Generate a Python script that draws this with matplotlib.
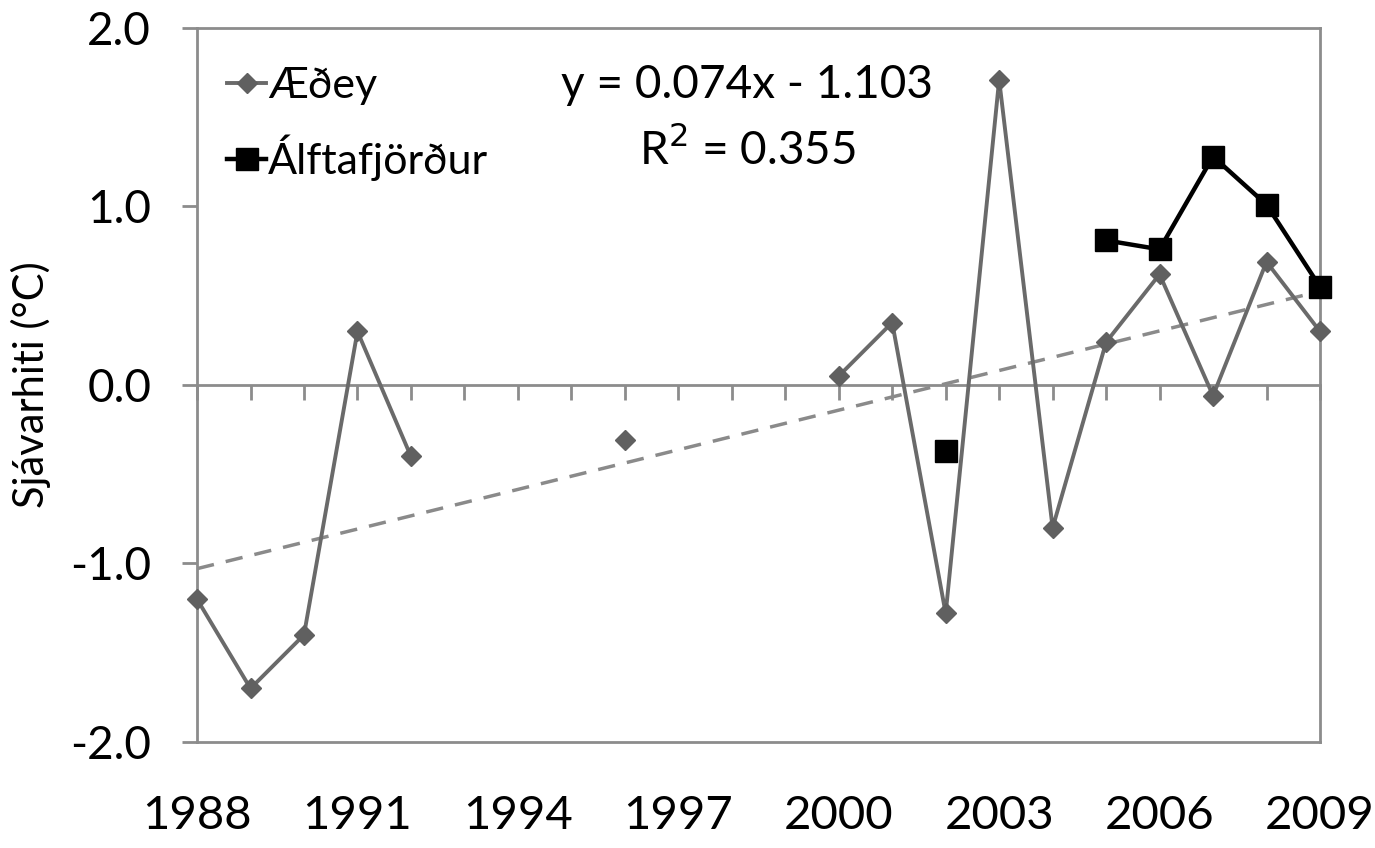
import matplotlib
matplotlib.use("Agg")
import matplotlib.pyplot as plt
import numpy as np

plt.rcParams['font.family'] = ['Lato', 'DejaVu Sans']
plt.rcParams['axes.unicode_minus'] = False

years = list(range(1988, 2010))
aedey = [-1.20, -1.70, -1.40, 0.30, -0.40, np.nan, np.nan, np.nan, -0.31, np.nan, np.nan, np.nan,
         0.05, 0.35, -1.28, 1.71, -0.80, 0.24, 0.62, -0.06, 0.69, 0.30]
alfta = [np.nan]*14 + [-0.37, np.nan, np.nan, 0.81, 0.76, 1.28, 1.01, 0.55]
# the source's trendline (x = index 1..22)
trend_slope = 0.074
trend_intercept = -1.103
trend_r2 = 0.355
xtick_years = [1988, 1991, 1994, 1997, 2000, 2003, 2006, 2009]
yticks = [-2.0, -1.0, 0.0, 1.0, 2.0]

fig = plt.figure(figsize=(13.75, 8.48), dpi=100)
ax = fig.add_axes([0.1433, 0.125, 0.8167, 0.842])

gray = '#8c8c8c'
ax.set_xlim(1988, 2009)
ax.set_ylim(-2, 2)

yrs = np.array(years)
idx = yrs - 1987
trend = trend_slope * idx + trend_intercept
ax.plot(yrs, trend, color='#8a8a8a', lw=2.5, ls=(0, (5, 3.5)), zorder=2)

ax.plot(yrs, aedey, color='#6a6a6a', lw=2.8, marker='D', ms=10, mfc='#606060', mec='#606060',
        label='Æðey', zorder=3, clip_on=False)
ax.plot(yrs, alfta, color='black', lw=3.2, marker='s', ms=16, mfc='black', mec='black',
        label='Álftafjörður', zorder=4, clip_on=False)

for s in ['left', 'right', 'top']:
    ax.spines[s].set_color(gray)
    ax.spines[s].set_linewidth(2)
ax.spines['bottom'].set_position(('data', 0))
ax.spines['bottom'].set_color(gray)
ax.spines['bottom'].set_linewidth(2)
ax.set_xticks(years)
ax.tick_params(axis='x', direction='out', length=11, width=2, color=gray, labelbottom=False)

sec = ax.secondary_xaxis('bottom')
sec.set_xticks(xtick_years)
sec.set_xticklabels([str(y) for y in xtick_years])
sec.spines['bottom'].set_color(gray)
sec.spines['bottom'].set_linewidth(2)
sec.tick_params(axis='x', length=0, pad=38, labelsize=34)

ax.set_yticks(yticks)
ax.set_yticklabels([f"{v:.1f}" for v in yticks])
ax.tick_params(axis='y', direction='out', length=11, width=2, color=gray, labelsize=33, pad=22)
ax.set_ylabel('Sjávarhiti (°C)', fontsize=30, labelpad=14)

leg = ax.legend(loc='upper left', bbox_to_anchor=(0.004, 0.982), frameon=False, fontsize=31,
                handlelength=0.9, handletextpad=0.05, labelspacing=0.7, borderaxespad=0.2)

ax.text(0.49, 0.92, f"y = {trend_slope:.3f}x - {abs(trend_intercept):.3f}", transform=ax.transAxes,
        ha='center', va='center', fontsize=33)
ax.text(0.49, 0.83, f"R$^2$ = {trend_r2:.3f}", transform=ax.transAxes,
        ha='center', va='center', fontsize=33)

fig.savefig('out.png', dpi=100)
